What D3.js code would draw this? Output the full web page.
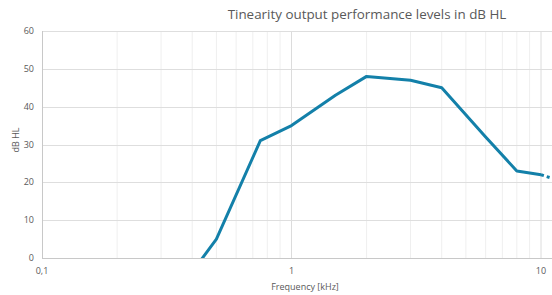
<!DOCTYPE html>
<html>
<head>
<meta charset="utf-8">
<script src="https://cdn.jsdelivr.net/npm/d3@7"></script>
<style>
  body { margin: 0; background: #fff; }
  text { font-family: "Open Sans", sans-serif; fill: #595959; }
</style>
</head>
<body>
<div id="chart"></div>
<script>
// measured frequency points (kHz) and output level (dB HL)
const freqs  = [0.25, 0.5, 0.75, 1, 1.5, 2, 3, 4, 6, 8, 10];
const levels = [-22, 5, 31, 35, 43, 48, 47, 45, 32, 23, 22];
// dotted continuation past the last measured point
const extFreqs  = [10, 12.5];
const extLevels = [22, 20];

const yTicks = [0, 10, 20, 30, 40, 50, 60];
const xMajor = [0.1, 1, 10];
const xLabels = ["0,1", "1", "10"];

const W = 552, H = 295;
const margin = { top: 31, left: 42, bottom: 37 };

const x = d3.scaleLog().domain([0.1, 100]).range([margin.left, margin.left + 3 * 249.5]);
const y = d3.scaleLinear().domain([0, 60]).range([H - margin.bottom, margin.top]);

const svg = d3.select("#chart").append("svg")
    .attr("width", W)
    .attr("height", H);

svg.append("clipPath").attr("id", "plot")
  .append("rect")
    .attr("x", margin.left)
    .attr("y", margin.top - 3)
    .attr("width", W - margin.left)
    .attr("height", y(0) - margin.top + 3);

// minor vertical grid
const minor = [];
for (let d = 0.1; d < 100; d *= 10)
    for (let k = 2; k <= 9; k++) minor.push(d * k);

svg.append("g").selectAll("line")
    .data(minor)
    .enter().append("line")
    .attr("x1", d => x(d)).attr("x2", d => x(d))
    .attr("y1", y(60)).attr("y2", y(0))
    .attr("stroke", "#efefef")
    .attr("stroke-width", 1);

// major vertical grid
svg.append("g").selectAll("line")
    .data(xMajor.slice(1))
    .enter().append("line")
    .attr("x1", d => x(d)).attr("x2", d => x(d))
    .attr("y1", y(60)).attr("y2", y(0))
    .attr("stroke", "#dcdcdc")
    .attr("stroke-width", 1);

// horizontal grid
svg.append("g").selectAll("line")
    .data(yTicks)
    .enter().append("line")
    .attr("x1", margin.left).attr("x2", W)
    .attr("y1", d => Math.round(y(d)) + 0.5).attr("y2", d => Math.round(y(d)) + 0.5)
    .attr("stroke", d => d === 0 ? "#c8c8c8" : "#dedede")
    .attr("stroke-width", 1);

// y axis line
svg.append("line")
    .attr("x1", margin.left + 0.5).attr("x2", margin.left + 0.5)
    .attr("y1", y(60)).attr("y2", y(0))
    .attr("stroke", "#c8c8c8");

// y tick labels
svg.append("g").selectAll("text")
    .data(yTicks)
    .enter().append("text")
    .attr("x", 34)
    .attr("y", d => y(d))
    .attr("dy", "0.35em")
    .attr("text-anchor", "end")
    .style("font-size", "9px")
    .text(d => d);

// x tick labels
svg.append("g").selectAll("text")
    .data(xMajor)
    .enter().append("text")
    .attr("x", d => x(d))
    .attr("y", y(0) + 16)
    .attr("text-anchor", "middle")
    .style("font-size", "9px")
    .text((d, i) => xLabels[i]);

const line = d3.line()
    .x(d => x(d[0]))
    .y(d => y(d[1]));

const g = svg.append("g").attr("clip-path", "url(#plot)");

g.append("path")
    .datum(d3.zip(freqs, levels))
    .attr("d", line)
    .attr("fill", "none")
    .attr("stroke", "#1380a9")
    .attr("stroke-width", 3)
    .attr("stroke-linejoin", "round");

g.append("path")
    .datum(d3.zip(extFreqs, extLevels))
    .attr("d", line)
    .attr("fill", "none")
    .attr("stroke", "#1380a9")
    .attr("stroke-width", 3)
    .attr("stroke-dasharray", "3,3");

svg.append("text")
    .attr("x", 367)
    .attr("y", 19)
    .attr("text-anchor", "middle")
    .style("font-size", "13.4px")
    .text("Tinearity output performance levels in dB HL");

svg.append("text")
    .attr("x", 305)
    .attr("y", 290)
    .attr("text-anchor", "middle")
    .style("font-size", "9px")
    .text("Frequency [kHz]");

svg.append("text")
    .attr("transform", `translate(19,${140}) rotate(-90)`)
    .attr("text-anchor", "middle")
    .style("font-size", "9px")
    .text("dB HL");
</script>
</body>
</html>
